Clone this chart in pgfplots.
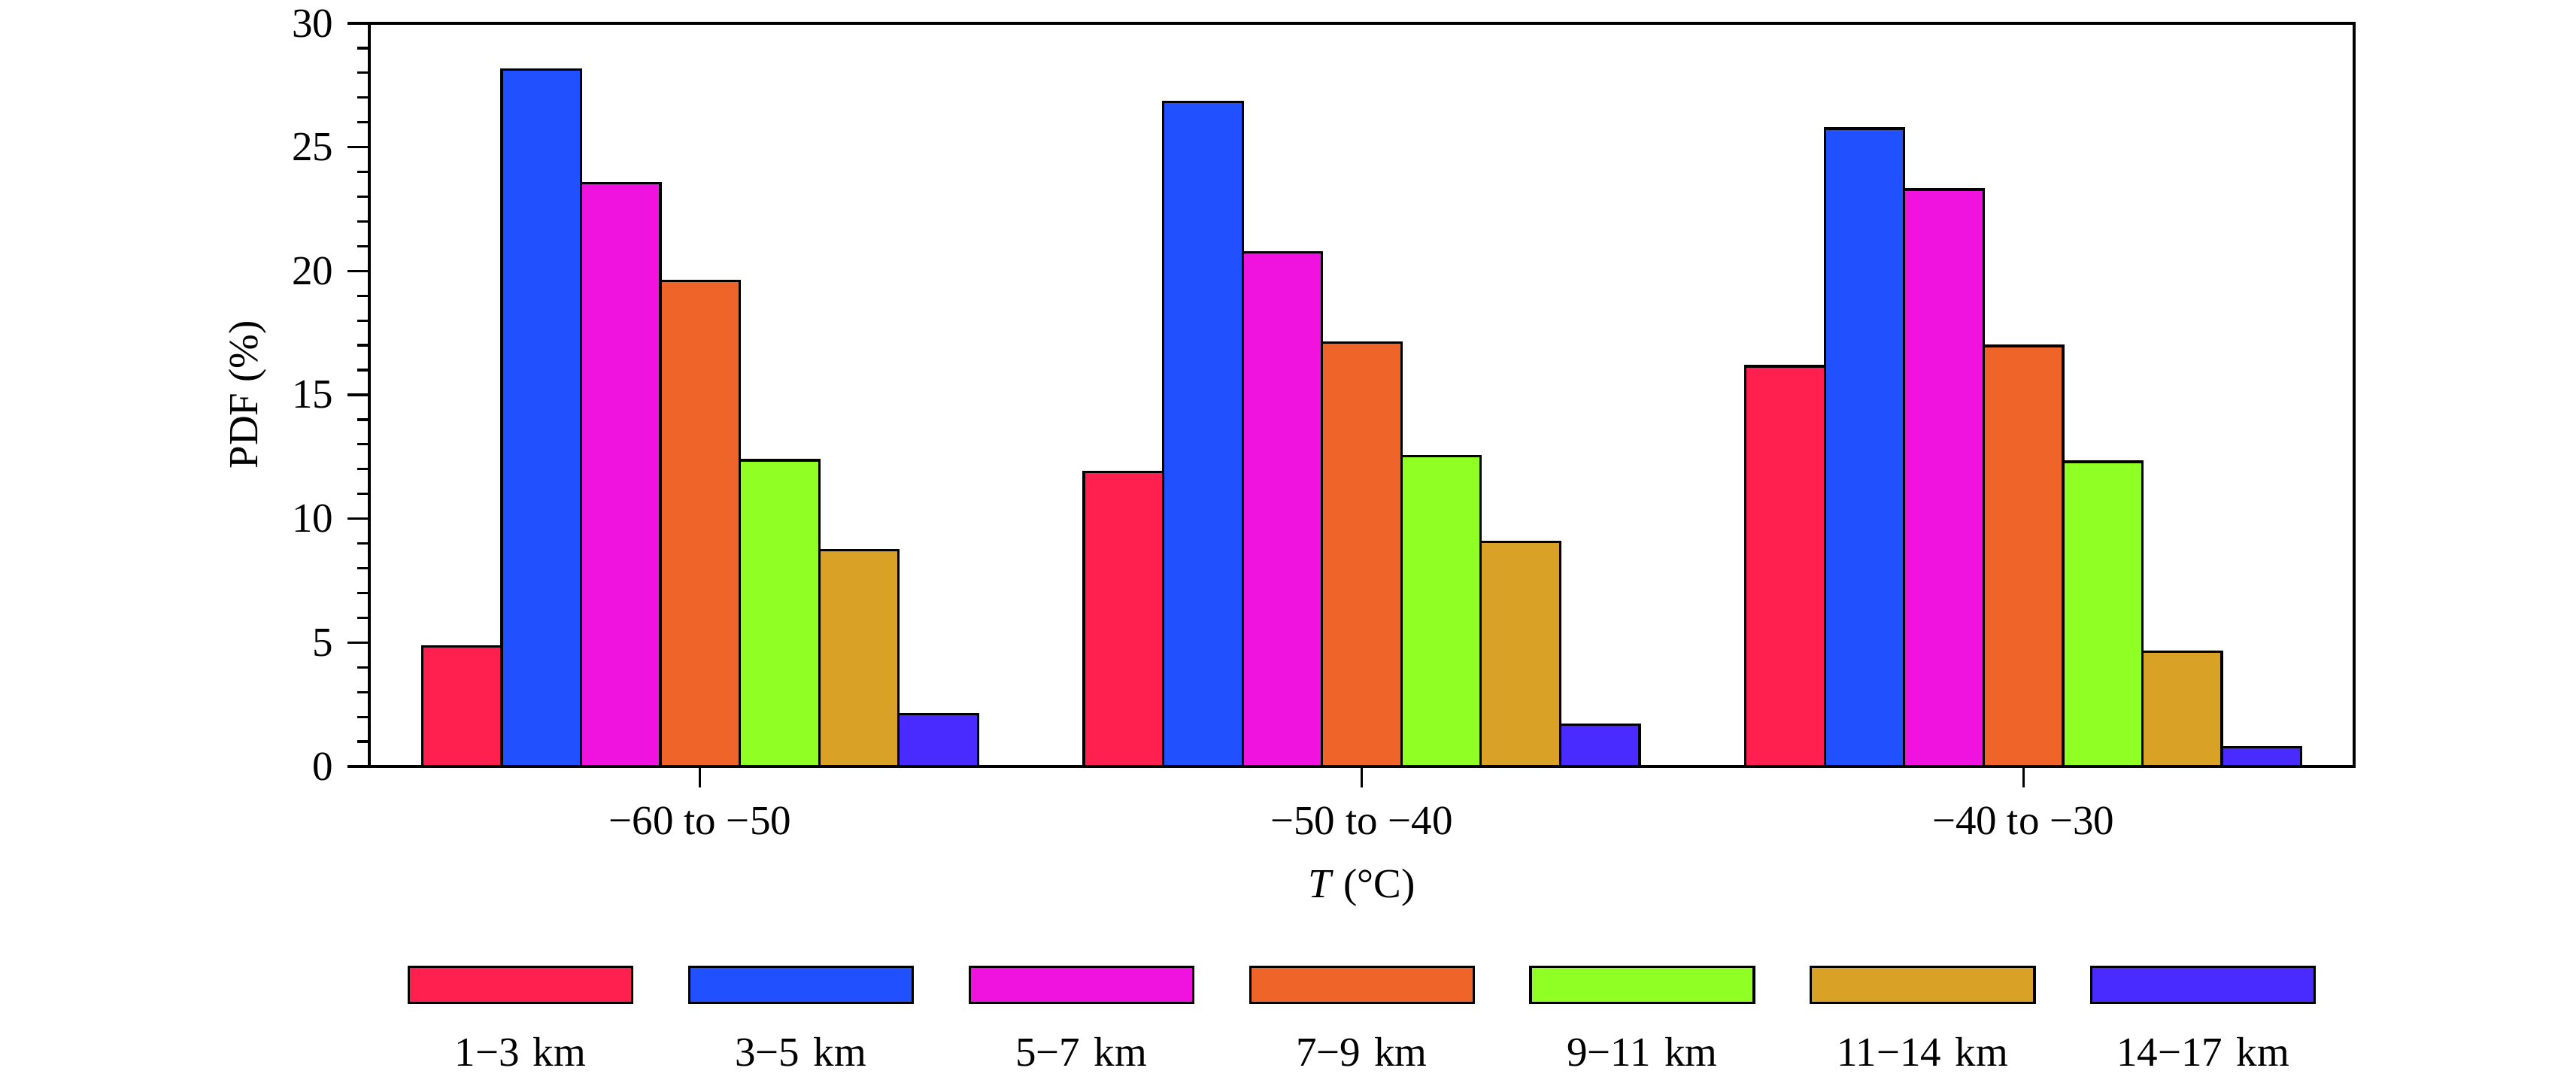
\documentclass[border=0pt]{standalone}
\usepackage{fontspec}
\setmainfont{Liberation Serif}
\usepackage{pgfplots}
\pgfplotsset{compat=1.18}
\definecolor{c1}{HTML}{FF2050}
\definecolor{c2}{HTML}{2050FF}
\definecolor{c3}{HTML}{F012DE}
\definecolor{c4}{HTML}{EF6428}
\definecolor{c5}{HTML}{8FFF24}
\definecolor{c6}{HTML}{D9A227}
\definecolor{c7}{HTML}{4A2BFF}
\begin{document}
\fontsize{11pt}{13pt}\selectfont
\begin{tikzpicture}
\begin{axis}[
  at={(0pt,0pt)}, anchor=south west,
  scale only axis, width=527.8pt, height=197.6pt,
  xmin=-0.5, xmax=2.5, ymin=0, ymax=30,
  xtick={0,1,2},
  xticklabels={−60 to −50, −50 to −40, −40 to −30},
  xticklabel style={yshift=-1.2pt},
  ytick={0,5,...,30},
  minor y tick num=4,
  xtick pos=bottom, ytick pos=left,
  tick align=outside,
  major tick length=5.7pt, minor tick length=3.2pt,
  axis line style={line width=0.65pt},
  every tick/.style={black, line width=0.65pt},
  /pgf/number format/assume math mode=true,
  xlabel={\textit{T} (°C)},
  ylabel={PDF (\%)},
  xlabel style={at={(axis description cs:0.5,0)}, anchor=base, yshift=-35pt},
  ylabel style={at={(axis description cs:0,0.5)}, anchor=center, yshift=32.3pt},
  legend columns=7,
  legend cell align=left,
  legend style={draw=none, fill=none, inner sep=0pt, outer sep=0pt,
    column sep=0pt, row sep=0pt,
    at={(axis description cs:0,0)}, anchor=north west,
    xshift=2.57pt, yshift=-71.8pt,
    nodes={inner sep=0pt, outer sep=0pt, text width=73.92pt, align=center,
           text height=8pt, text depth=2.5pt}},
  legend image code/.code={\path (0pt,0pt);
    \draw[#1, overlay] (7.63pt,14.2pt) rectangle (67.03pt,23.8pt);},
  every axis plot/.append style={ybar, bar width=0.12, draw=black, line width=0.65pt},
]
\addplot[fill=c1, bar shift=-0.36] coordinates {(0,4.84) (1,11.88) (2,16.15)};
\addplot[fill=c2, bar shift=-0.24] coordinates {(0,28.13) (1,26.83) (2,25.75)};
\addplot[fill=c3, bar shift=-0.12] coordinates {(0,23.55) (1,20.76) (2,23.29)};
\addplot[fill=c4, bar shift=0] coordinates {(0,19.60) (1,17.11) (2,16.97)};
\addplot[fill=c5, bar shift=0.12] coordinates {(0,12.36) (1,12.53) (2,12.30)};
\addplot[fill=c6, bar shift=0.24] coordinates {(0,8.74) (1,9.06) (2,4.63)};
\addplot[fill=c7, bar shift=0.36] coordinates {(0,2.10) (1,1.68) (2,0.78)};
\legend{1−3 km, 3−5 km, 5−7 km, 7−9 km, 9−11 km, 11−14 km, 14−17 km}
\end{axis}
\pgfresetboundingbox
\path (-98.2pt,-81.8pt) rectangle (586.8pt,203.8pt);
\end{tikzpicture}
\end{document}
